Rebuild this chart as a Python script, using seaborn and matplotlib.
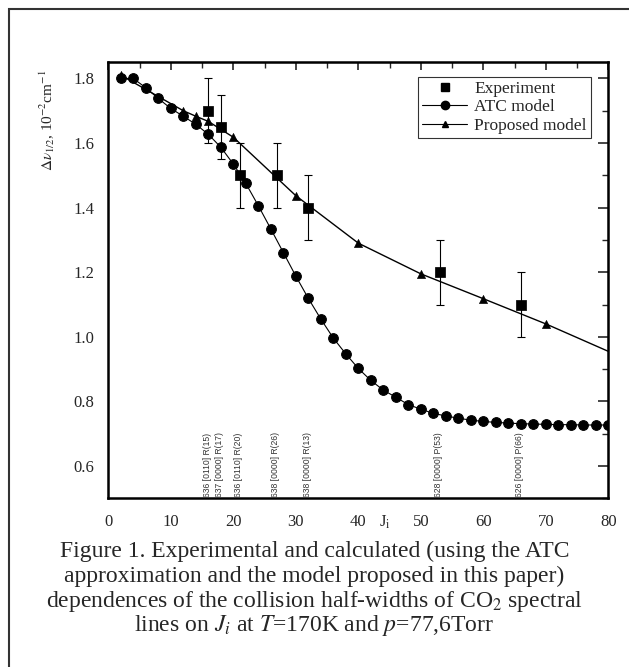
import pandas as pd
import matplotlib
matplotlib.use('Agg')
import matplotlib.pyplot as plt
import matplotlib.transforms as mtransforms
from matplotlib.lines import Line2D
from matplotlib.patches import Rectangle
from matplotlib.ticker import MultipleLocator
import seaborn as sns

# ---------------------------------------------------------------
#   DATA
# ---------------------------------------------------------------
atc_j = list(range(2, 81, 2))
atc_width = [1.800, 1.800, 1.771, 1.738, 1.707, 1.683, 1.658, 1.627, 1.587, 1.535,
             1.475, 1.406, 1.334, 1.261, 1.188, 1.119, 1.055, 0.996, 0.947, 0.902,
             0.865, 0.835, 0.813, 0.790, 0.776, 0.763, 0.755, 0.748, 0.742, 0.738,
             0.735, 0.733, 0.731, 0.730, 0.729, 0.728, 0.728, 0.727, 0.727, 0.727]

proposed_j = [2, 12, 14, 16, 20, 30, 40, 50, 60, 70, 80]
proposed_width = [1.81, 1.70, 1.683, 1.667, 1.618, 1.437, 1.29, 1.195, 1.118, 1.040, 0.955]

exp_j = [16, 18, 21, 27, 32, 53, 66]
exp_width = [1.70, 1.65, 1.50, 1.50, 1.40, 1.20, 1.10]
exp_err = [0.10, 0.10, 0.10, 0.10, 0.10, 0.10, 0.10]

line_labels = ['636 [0110] R(15)', '637 [0000] R(17)', '636 [0110] R(20)',
               '638 [0000] R(26)', '638 [0000] R(13)', '628 [0000] P(53)',
               '626 [0000] P(66)']

caption = ['Figure 1. Experimental and calculated (using the ATC',
           'approximation and the model proposed in this paper)',
           r'dependences of the collision half-widths of CO$_2$ spectral',
           r'lines on $J_i$ at $T$=170K and $p$=77,6Torr']

atc = pd.DataFrame({'J': atc_j, 'w': atc_width})
prop = pd.DataFrame({'J': proposed_j, 'w': proposed_width})
exp = pd.DataFrame({'J': exp_j, 'w': exp_width, 'err': exp_err})

# ---------------------------------------------------------------
#   STYLE
# ---------------------------------------------------------------
sns.set_style('white')
plt.rcParams['font.family'] = ['Liberation Serif', 'DejaVu Serif']
plt.rcParams['mathtext.fontset'] = 'stix'

fig = plt.figure(figsize=(6.29, 6.67), dpi=100)
ax = fig.add_axes([0.1722, 0.2529, 0.795, 0.6537])

# ATC model: line + circles
sns.lineplot(data=atc, x='J', y='w', ax=ax, color='black', lw=0.8,
             marker='o', markersize=7, markeredgecolor='black', zorder=3)
# Proposed model: line + triangles (no triangle at 80)
sns.lineplot(data=prop, x='J', y='w', ax=ax, color='black', lw=1.0, zorder=2)
sns.scatterplot(data=prop[prop['J'] < 80], x='J', y='w', ax=ax, color='black',
                marker='^', s=34, edgecolor='black', zorder=4)
# Experiment with error bars
ax.errorbar(exp['J'], exp['w'], yerr=exp['err'], fmt='none', ecolor='black',
            elinewidth=0.8, capsize=3, capthick=0.8, zorder=4)
sns.scatterplot(data=exp, x='J', y='w', ax=ax, color='black', marker='s',
                s=42, edgecolor='black', zorder=5)

# Vertical line labels above the x-axis
trans = mtransforms.blended_transform_factory(ax.transData, ax.transAxes)
for j, lab in zip(exp_j, line_labels):
    ax.text(j - 0.2, 0.004, lab, rotation=90, ha='center', va='bottom',
            fontsize=6.2, family='Liberation Sans', color='#333333', transform=trans)

# Axes, ticks
ax.set_xlim(0, 80)
ax.set_ylim(0.5, 1.85)
ax.set_xlabel('')
ax.set_ylabel('')
ax.xaxis.set_major_locator(MultipleLocator(10))
ax.xaxis.set_minor_locator(MultipleLocator(5))
ax.yaxis.set_minor_locator(MultipleLocator(0.1))
ax.set_yticks([0.6, 0.8, 1.0, 1.2, 1.4, 1.6, 1.8])
ax.set_yticklabels(['0.6', '0.8', '1.0', '1.2', '1.4', '1.6', '1.8'])
ax.tick_params(which='major', direction='out', length=7, width=1.2,
               labelsize=12, pad=3)
ax.tick_params(which='minor', direction='out', length=4, width=1.0)
ax.tick_params(axis='x', pad=4)
for sp in ax.spines.values():
    sp.set_linewidth(1.8)
    sp.set_color('black')

top = ax.secondary_xaxis('top')
top.xaxis.set_major_locator(MultipleLocator(10))
top.xaxis.set_minor_locator(MultipleLocator(5))
top.tick_params(which='major', direction='in', length=6, width=1.2, labeltop=False)
top.tick_params(which='minor', direction='in', length=4, width=1.0)
right = ax.secondary_yaxis('right')
right.yaxis.set_major_locator(MultipleLocator(0.2))
right.yaxis.set_minor_locator(MultipleLocator(0.1))
right.tick_params(which='major', direction='in', length=7, width=1.2, labelright=False)
right.tick_params(which='minor', direction='in', length=4, width=1.0)

# J_i label sitting in the tick label row
ax.text(44.3, -0.054, r'J$_{\mathrm{i}}$', transform=trans, ha='center',
        va='center', fontsize=12)

# y label
fig.text(0.075, 0.82, r'$\Delta\nu_{1/2}$, 10$^{-2}$cm$^{-1}$', rotation=90,
         ha='center', va='center', fontsize=11)

# Legend
handles = [Line2D([], [], color='black', marker='s', ls='none', markersize=6),
           Line2D([], [], color='black', marker='o', lw=0.8, markersize=6),
           Line2D([], [], color='black', marker='^', lw=0.8, markersize=5)]
leg = ax.legend(handles, ['Experiment', 'ATC model', 'Proposed model'],
                loc='upper right', bbox_to_anchor=(0.965, 0.967), fontsize=12.5,
                frameon=True, fancybox=False, handlelength=2.6,
                borderpad=0.25, labelspacing=0.12, handletextpad=0.4,
                borderaxespad=0.0)
leg.get_frame().set_edgecolor('black')
leg.get_frame().set_linewidth(0.8)

# Caption
for k, line in enumerate(caption):
    y_px = [551, 576, 601, 626][k]
    fig.text(0.5, 1 - y_px / 667, line, ha='center', va='center', fontsize=17)

# Outer frame
fig.patches.append(Rectangle((9 / 629, -0.1), 1.2, 1.1 - 9 / 667, fill=False,
                             lw=1.5, edgecolor='#333333', transform=fig.transFigure))

plt.savefig('out.png', dpi=100)
